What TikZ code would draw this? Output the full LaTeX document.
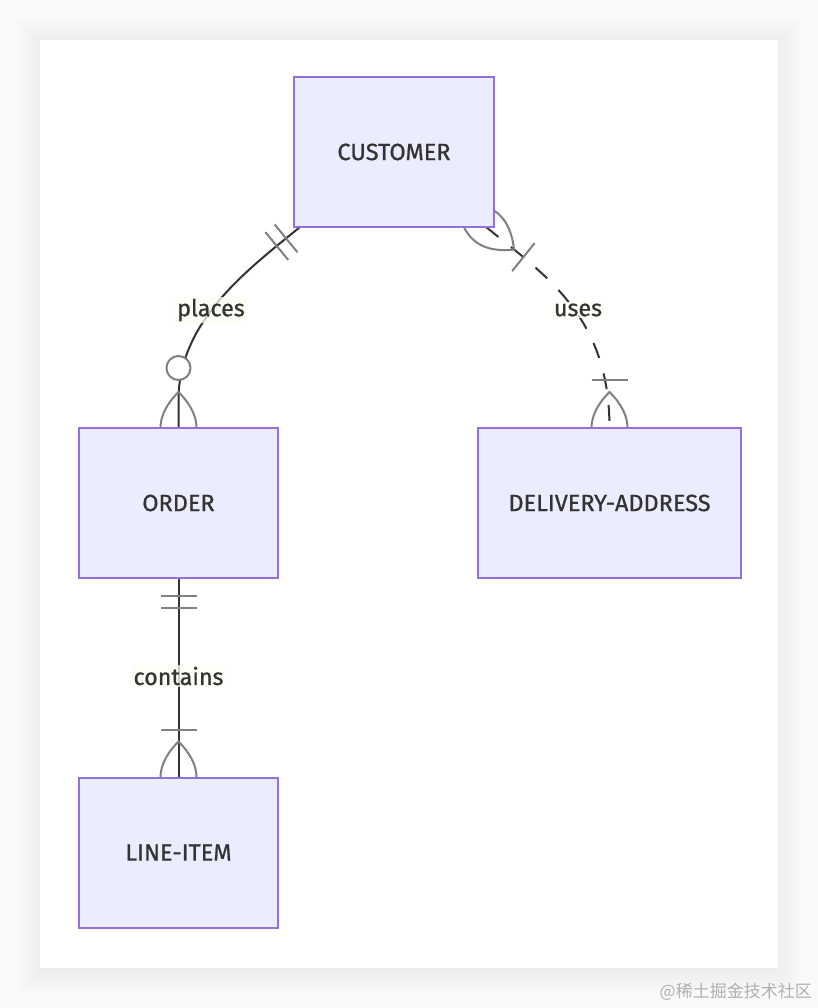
\documentclass[tikz,border=0pt]{standalone}
\usepackage{fontspec}
\setmainfont{Fira Sans}
\newfontfamily\erfont{Fira Sans}[RawFeature={embolden=0.8}]
\newfontfamily\cjkfont{Noto Sans CJK SC}
\usetikzlibrary{calc}
\definecolor{nodefill}{HTML}{ECECFF}
\definecolor{nodeline}{HTML}{9370DB}
\definecolor{edgecol}{HTML}{333333}
\definecolor{markcol}{HTML}{808080}
\definecolor{labelbg}{HTML}{FBFFF4}
\definecolor{outerbg}{HTML}{FAFAFA}
\definecolor{wmcol}{HTML}{B0B0B0}
\pgfdeclarelayer{bglayer}
\pgfdeclarelayer{edgelayer}
\pgfsetlayers{bglayer,edgelayer,main}
\tikzset{
  entity/.style={draw=nodeline, fill=nodefill, line width=2pt, minimum height=150pt,
    inner sep=0pt, outer sep=0pt, text=edgecol, font=\erfont\fontsize{23.5}{28}\selectfont},
  rel/.style={draw=edgecol, line width=2pt},
  relabel/.style={fill=labelbg, fill opacity=0.75, text opacity=1, text=edgecol,
    inner sep=2pt, font=\erfont\fontsize{23.3}{28}\selectfont},
  erstroke/.style={draw=markcol, line width=2pt},
  onlyone/.pic={
    \draw[erstroke] (18,-18) -- (18,18) (30,-18) -- (30,18);
  },
  oneormore/.pic={
    \draw[erstroke] (-36,0) .. controls (-12,-24) and (12,-24) .. (36,0)
                            .. controls (12,24) and (-12,24) .. (-36,0);
    \draw[erstroke] (48,-18) -- (48,18);
  },
  zeroormore/.pic={
    \draw[erstroke] (-36,0) .. controls (-12,-24) and (12,-24) .. (36,0)
                            .. controls (12,24) and (-12,24) .. (-36,0);
    \draw[erstroke, fill=white] (60,0) circle[radius=12pt];
  }
}
\begin{document}
\begin{tikzpicture}[x=1pt,y=-1pt]
\useasboundingbox (0,0) rectangle (818,1008);
\begin{pgfonlayer}{bglayer}
  \fill[outerbg] (0,0) rectangle (818,1008);
  \foreach \i in {2,4,...,24}{
    \fill[black, opacity=0.0045] ({40-\i},{40-\i+2}) rectangle ({778+\i},{968+\i+2});
  }
  \fill[white] (40,40) rectangle (778,968);
\end{pgfonlayer}

\node[entity, minimum width=200pt] (customer) at (394,152) {CUSTOMER};
\node[entity, minimum width=199pt] (order) at (178.5,503) {ORDER};
\node[entity, minimum width=263pt] (delivery) at (609.5,503) {DELIVERY-ADDRESS};
\node[entity, minimum width=199pt] (lineitem) at (178.5,852.5) {LINE-ITEM};

\coordinate (pA) at ($(customer.south west)+(6,0)$);
\coordinate (pB) at ($(customer.south east)+(-8,0)$);

\begin{pgfonlayer}{edgelayer}
  % places
  \draw[rel] (pA) .. controls ($(pA)+(-50,41)$) and ($(order.north)+(0,-108)$)
     .. ($(order.north)+(0,-28)$) -- (order.north);
  \pic[rotate=219.35] at (pA) {onlyone};
  \pic[rotate=90] at (order.north) {zeroormore};
  % uses
  \draw[rel, dash pattern=on 16pt off 16pt] (pB) .. controls ($(pB)+(62,50)$)
     and ($(delivery.north)+(0,-110)$) .. (delivery.north);
  \pic[rotate=-38.9] at (pB) {oneormore};
  \pic[rotate=90] at (delivery.north) {oneormore};
  % contains
  \draw[rel] (order.south) -- (lineitem.north);
  \pic[rotate=-90] at (order.south) {onlyone};
  \pic[rotate=90] at (lineitem.north) {oneormore};
\end{pgfonlayer}

\node[relabel] (lplaces) at (211,310) {places};
\node[relabel] (luses) at (578,310) {uses};
\node[relabel] (lcontains) at (178.5,676) {contains};

\node[font=\cjkfont\fontsize{17}{20}\selectfont, text=wmcol, anchor=east, inner sep=0pt] (wm) at (812,992) {@稀土掘金技术社区};
\end{tikzpicture}
\end{document}
